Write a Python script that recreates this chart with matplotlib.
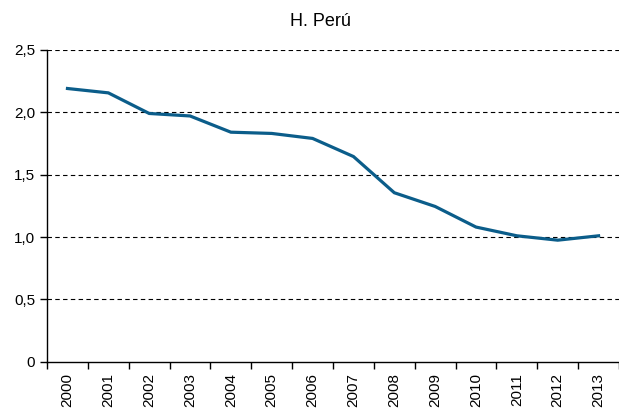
import numpy as np
import matplotlib.pyplot as plt
from matplotlib.ticker import FuncFormatter

plt.rcParams['font.family'] = ['Liberation Sans', 'DejaVu Sans']

years = ['2000', '2001', '2002', '2003', '2004', '2005', '2006',
         '2007', '2008', '2009', '2010', '2011', '2012', '2013']
values = [2.19, 2.155, 1.99, 1.97, 1.84, 1.83, 1.79,
          1.645, 1.355, 1.245, 1.08, 1.01, 0.975, 1.01]

fig = plt.figure(figsize=(6.19, 4.15), dpi=100)
ax = fig.add_axes([0.076, 0.128, 0.924, 0.752])

x = np.arange(len(years))
ax.plot(x, values, color='#0b5d8a', linewidth=2.3, solid_joinstyle='miter')

ax.set_xlim(-0.5, len(years) - 0.5)
ax.set_ylim(0, 2.5)
ax.set_yticks([0, 0.5, 1.0, 1.5, 2.0, 2.5])
ax.yaxis.set_major_formatter(FuncFormatter(
    lambda v, p: '0' if v == 0 else f'{v:.1f}'.replace('.', ',')))

for g in [0.5, 1.0, 1.5, 2.0, 2.5]:
    ax.axhline(g, color='black', linestyle=(0, (4, 3)), linewidth=0.8, zorder=0)

# ticks between categories, labels centred
ax.set_xticks(np.arange(-0.5, len(years), 1.0))
ax.set_xticklabels([])
ax.set_xticks(x, minor=True)
ax.set_xticklabels(years, minor=True, rotation=90)
ax.tick_params(axis='x', which='minor', length=0, pad=8, labelsize=11)
ax.tick_params(axis='x', which='major', length=5, width=1, direction='out')
ax.tick_params(axis='y', length=5, width=1, direction='out', labelsize=11)

for s in ['top', 'right']:
    ax.spines[s].set_visible(False)
for s in ['left', 'bottom']:
    ax.spines[s].set_linewidth(1)

fig.text(0.517, 0.949, 'H. Perú', ha='center', va='center', fontsize=13)

fig.savefig('out.png', dpi=100)
